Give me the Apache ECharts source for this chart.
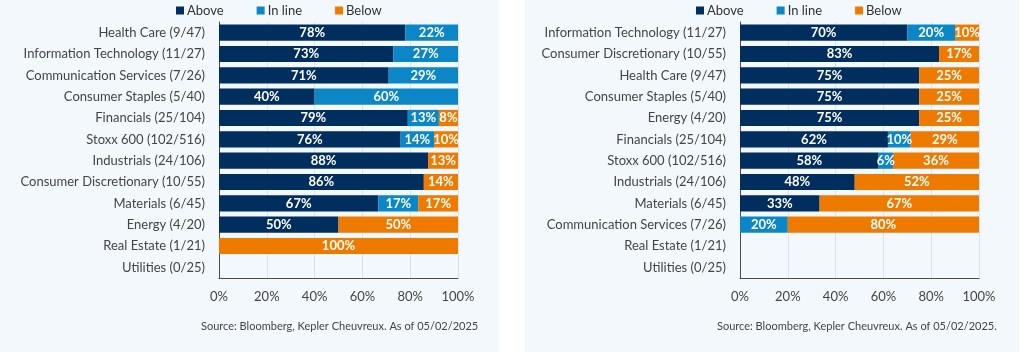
<!DOCTYPE html>
<html>
<head>
<meta charset="utf-8">
<script src="https://cdn.jsdelivr.net/npm/echarts@6/dist/echarts.min.js"></script>
<style>
html,body{margin:0;padding:0;background:#ffffff;width:1024px;height:359px;overflow:hidden;}
.panel{position:absolute;top:0;height:352px;background:#f3f8fc;}
#left{left:0;width:499px;}
#right{left:525px;width:494px;}
</style>
</head>
<body>
<div id="left" class="panel"></div>
<div id="right" class="panel"></div>
<script>
// ---- Left chart data ----
const leftCategories = ["Health Care (9/47)","Information Technology (11/27)","Communication Services (7/26)","Consumer Staples (5/40)","Financials (25/104)","Stoxx 600 (102/516)","Industrials (24/106)","Consumer Discretionary (10/55)","Materials (6/45)","Energy (4/20)","Real Estate (1/21)","Utilities (0/25)"];
const leftAbove  = [78, 73, 71, 40, 79, 76, 87.5, 85.7, 66.7, 50, 0, 0];
const leftInLine = [22, 27, 29, 60, 13, 14, 0, 0, 16.7, 0, 0, 0];
const leftBelow  = [0, 0, 0, 0, 8, 10, 12.5, 14.3, 16.7, 50, 100, 0];

// ---- Right chart data ----
const rightCategories = ["Information Technology (11/27)","Consumer Discretionary (10/55)","Health Care (9/47)","Consumer Staples (5/40)","Energy (4/20)","Financials (25/104)","Stoxx 600 (102/516)","Industrials (24/106)","Materials (6/45)","Communication Services (7/26)","Real Estate (1/21)","Utilities (0/25)"];
const rightAbove  = [70, 83.3, 75, 75, 75, 61.9, 58, 48, 33.3, 0, 0, 0];
const rightInLine = [20, 0, 0, 0, 0, 9.5, 6, 0, 0, 20, 0, 0];
const rightBelow  = [10, 16.7, 25, 25, 25, 28.6, 36, 52, 66.7, 80, 0, 0];

const xTicks = [0, 20, 40, 60, 80, 100];
const seriesNames = ["Above", "In line", "Below"];
const colors = ["#002f5f", "#0b86c7", "#ee7a00"];
const FONT = "Lato";

function build(el, cats, above, inline, below, gridLeft, legendLeft, sourceText, sourceLeft) {
  const chart = echarts.init(el, null, {renderer: 'canvas'});
  const mk = (name, data, i) => ({
    name: name, type: 'bar', stack: 'total', data: data, barCategoryGap: '24%',
    itemStyle: {color: colors[i]},
    label: {
      show: true, position: 'inside', color: '#ffffff', fontFamily: FONT,
      fontWeight: 'bold', fontSize: 13,
      formatter: p => p.value > 0 ? Math.round(p.value) + '%' : ''
    }
  });
  chart.setOption({
    backgroundColor: 'transparent',
    animation: false,
    textStyle: {fontFamily: FONT},
    legend: {
      data: seriesNames, left: legendLeft, top: 4, padding: 0, itemWidth: 8, itemHeight: 8,
      itemGap: 33, icon: 'rect',
      textStyle: {fontFamily: FONT, fontSize: 13, color: '#333333', padding: [0,0,0,-2]}
    },
    grid: {left: gridLeft, width: 239, top: 22, height: 256},
    xAxis: {
      type: 'value', min: xTicks[0], max: xTicks[xTicks.length - 1], interval: 20,
      axisLine: {show: true, lineStyle: {color: '#4a4a4a', width: 1}},
      axisTick: {show: false},
      splitLine: {show: true, lineStyle: {color: '#dbe2ea'}},
      axisLabel: {formatter: '{value}%', color: '#444444', fontSize: 13, fontFamily: FONT, margin: 12}
    },
    yAxis: {
      type: 'category', data: cats, inverse: true,
      axisLine: {show: true, lineStyle: {color: '#4a4a4a', width: 1}},
      axisTick: {show: false},
      axisLabel: {color: '#444444', fontSize: 13, fontFamily: FONT, margin: 14}
    },
    graphic: [{
      type: 'text', left: sourceLeft, top: 321,
      style: {text: sourceText, fill: '#444444', font: '11px ' + FONT}
    }],
    series: [mk(seriesNames[0], above, 0), mk(seriesNames[1], inline, 1), mk(seriesNames[2], below, 2)]
  });
  return chart;
}

build(document.getElementById('left'), leftCategories, leftAbove, leftInLine, leftBelow,
      219, 176, "Source: Bloomberg, Kepler Cheuvreux. As of 05/02/2025", 201);
build(document.getElementById('right'), rightCategories, rightAbove, rightInLine, rightBelow,
      215, 171, "Source: Bloomberg, Kepler Cheuvreux. As of 05/02/2025.", 192);
</script>
</body>
</html>
